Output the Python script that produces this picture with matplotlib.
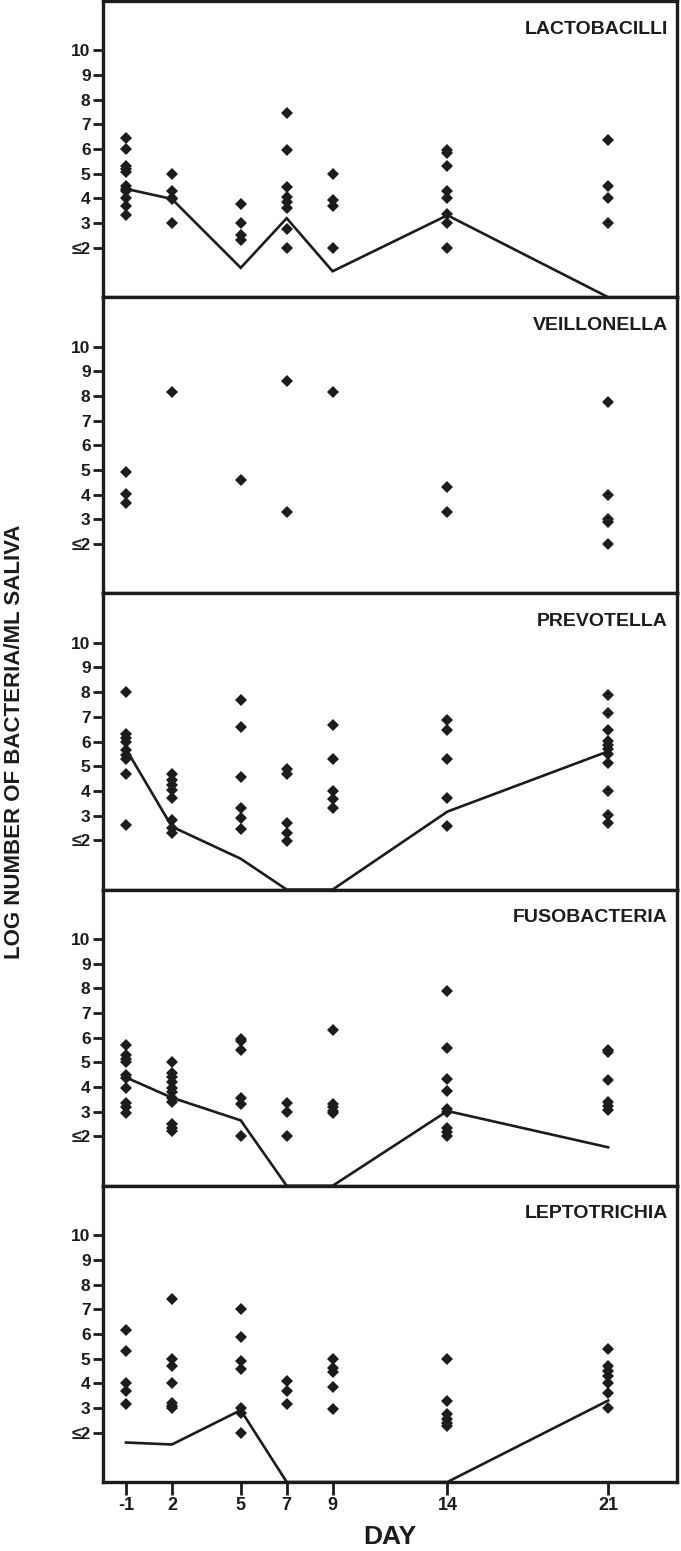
import matplotlib
matplotlib.use("Agg")
from matplotlib import pyplot as plt
from matplotlib import font_manager
import numpy as np

# days sampled; day -1 is drawn at position 0
day_labels = ["-1", "2", "5", "7", "9", "14", "21"]
day_pos = [0, 2, 5, 7, 9, 14, 21]

names = ["LACTOBACILLI", "VEILLONELLA", "PREVOTELLA", "FUSOBACTERIA", "LEPTOTRICHIA"]

# individual subject values, one list per day (log count / ml saliva)
lacto_pts = [
    [6.45, 6.0, 5.3, 5.2, 5.07, 4.5, 4.4, 4.3, 4.0, 3.68, 3.32],
    [5.0, 4.32, 4.0, 3.98, 3.0],
    [3.79, 3.0, 2.52, 2.3],
    [7.45, 5.95, 4.48, 4.05, 3.85, 3.6, 2.75, 2.0],
    [5.0, 3.95, 3.7, 2.0],
    [5.98, 5.86, 5.31, 4.32, 4.0, 3.37, 3.0, 2.0],
    [6.37, 4.5, 4.02, 3.0],
]
veill_pts = [
    [4.9, 4.03, 3.67],
    [8.17],
    [4.6],
    [8.6, 3.31],
    [8.17],
    [4.33, 3.31],
    [7.77, 4.0, 3.0, 2.9, 2.0],
]
prevo_pts = [
    [8.0, 6.3, 6.15, 6.0, 5.65, 5.45, 5.3, 4.7, 2.6],
    [4.67, 4.45, 4.25, 4.03, 3.7, 2.8, 2.5, 2.3],
    [7.68, 6.59, 4.58, 3.3, 2.92, 2.47],
    [4.9, 4.67, 2.68, 2.3, 1.97],
    [6.68, 5.29, 4.01, 3.68, 3.3],
    [6.89, 6.45, 5.28, 3.7, 2.58],
    [7.89, 7.16, 6.45, 6.04, 5.86, 5.7, 5.49, 5.14, 3.98, 3.04, 2.7],
]
fuso_pts = [
    [5.7, 5.3, 5.15, 5.0, 4.5, 4.35, 3.95, 3.35, 3.2, 2.95],
    [5.0, 4.56, 4.39, 4.19, 3.98, 3.78, 3.57, 3.41, 2.5, 2.34, 2.23],
    [5.96, 5.85, 5.49, 3.57, 3.3, 2.0],
    [3.37, 2.98, 2.0],
    [6.31, 3.3, 3.19, 3.05, 2.93],
    [7.88, 5.59, 4.33, 3.85, 3.13, 2.99, 2.35, 2.19, 2.0],
    [5.49, 5.42, 4.29, 3.38, 3.24, 3.06],
]
lepto_pts = [
    [6.17, 5.29, 4.03, 3.67, 3.16],
    [7.4, 5.0, 4.69, 4.03, 3.2, 3.07, 3.0],
    [7.0, 5.87, 4.89, 4.57, 3.0, 2.8, 1.97],
    [4.11, 3.67, 3.16],
    [5.0, 4.6, 4.47, 3.84, 2.97],
    [5.0, 3.3, 2.74, 2.56, 2.4, 2.27],
    [5.38, 4.7, 4.5, 4.31, 4.03, 3.6, 3.0],
]

# median line per day (None = no line drawn)
lacto_line = [4.39, 3.98, 1.19, 3.2, 1.05, 3.32, 0.0]
veill_line = None
prevo_line = [5.7, 2.55, 1.25, 0.0, 0.0, 3.16, 5.6]
fuso_line = [4.39, 3.57, 2.65, 0.0, 0.0, 3.03, 1.56]
lepto_line = [1.6, 1.52, 2.91, 0.0, None, 0.0, 3.3]

all_pts = [lacto_pts, veill_pts, prevo_pts, fuso_pts, lepto_pts]
all_lines = [lacto_line, veill_line, prevo_line, fuso_line, lepto_line]

ytick_vals = [2, 3, 4, 5, 6, 7, 8, 9, 10]
ytick_labels = ["≤2", "3", "4", "5", "6", "7", "8", "9", "10"]

names_avail = {f.name for f in font_manager.fontManager.ttflist}
narrow = "Liberation Sans Narrow" if "Liberation Sans Narrow" in names_avail else "Liberation Sans"
plt.rcParams['font.family'] = ['Liberation Sans', 'DejaVu Sans']
plt.rcParams['font.weight'] = 'bold'

ink = "#1c1c1c"

fig = plt.figure(figsize=(6.81, 15.51), dpi=100)
gs = fig.add_gridspec(5, 1, left=103/681, right=677/681, top=1 - 1/1551, bottom=1 - 1482/1551, hspace=0)

for i in range(5):
    ax = fig.add_subplot(gs[i])
    xs, ys = [], []
    for p, vals in zip(day_pos, all_pts[i]):
        xs += [p] * len(vals)
        ys += vals
    ax.plot(xs, ys, linestyle="none", marker="D", markersize=6.5, color=ink, markeredgewidth=0)

    line = all_lines[i]
    if line is not None:
        lx = [p for p, v in zip(day_pos, line) if v is not None]
        ly = [v for v in line if v is not None]
        ax.plot(lx, ly, color=ink, linewidth=1.9, solid_joinstyle="miter")

    ax.set_xlim(-1, 24)
    ax.set_ylim(0, 12)
    ax.set_yticks(ytick_vals)
    ax.set_yticklabels(ytick_labels, fontsize=12.5, fontweight="bold", color=ink)
    ax.tick_params(axis="y", direction="out", length=7, width=2.0, pad=2, color=ink)
    for s in ax.spines.values():
        s.set_linewidth(2.4)
        s.set_color(ink)
    if i == 4:
        ax.set_xticks(day_pos)
        ax.set_xticklabels(day_labels, fontsize=13, fontweight="bold", family=[narrow, 'DejaVu Sans'], color=ink)
        ax.tick_params(axis="x", direction="out", length=9, width=2.0, pad=2, color=ink)
        ax.set_xlabel("DAY", fontsize=19, fontweight="bold", color=ink, labelpad=8)
    else:
        ax.set_xticks([])
    ax.text(0.984, 0.905, names[i], transform=ax.transAxes, ha="right", va="center",
            fontsize=14, fontweight="bold", color=ink)

fig.text(0.021, 1 - 742/1551, "LOG NUMBER OF BACTERIA/ML SALIVA", rotation=90,
         ha="center", va="center", fontsize=16, fontweight="bold", color=ink)

fig.savefig("out.png", dpi=100)
